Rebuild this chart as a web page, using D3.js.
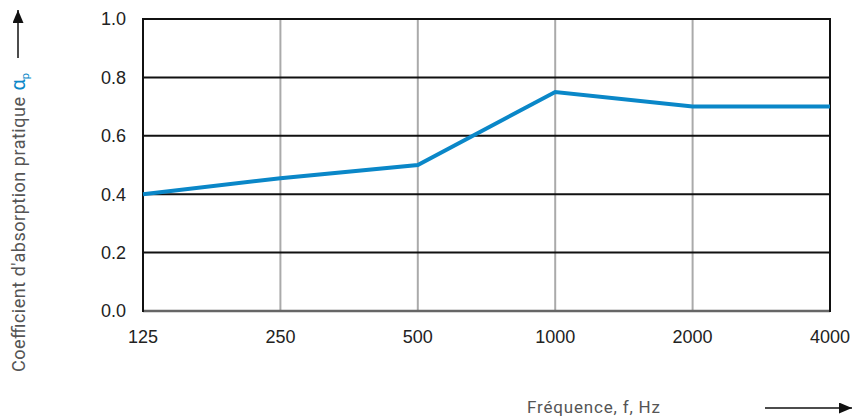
<!DOCTYPE html>
<html>
<head>
<meta charset="utf-8">
<script src="https://cdn.jsdelivr.net/npm/d3@7"></script>
<style>
  body { margin: 0; background: #fff; }
  text { font-family: "Liberation Sans", Arial, sans-serif; }
  .title { font-family: Roboto, "Liberation Sans", sans-serif; }
</style>
</head>
<body>
<div id="chart"></div>
<script>
'use strict';

var frequencies = ['125', '250', '500', '1000', '2000', '4000'];
var absorption = [0.40, 0.455, 0.50, 0.75, 0.70, 0.70];
var yTicks = [0.0, 0.2, 0.4, 0.6, 0.8, 1.0];

var width = 853,
  height = 418,
  margin = { top: 19, right: 23, bottom: 107, left: 143 };

var svg = d3.select('#chart')
  .append('svg')
  .attr('width', width)
  .attr('height', height);

var x = d3.scalePoint()
  .domain(frequencies)
  .range([margin.left, width - margin.right]);

var y = d3.scaleLinear()
  .domain([0, 1])
  .range([height - margin.bottom, margin.top]);

// vertical grid (grey)
svg.append('g')
  .selectAll('line')
  .data(frequencies.slice(1, -1))
  .join('line')
  .attr('x1', function(d) { return x(d); })
  .attr('x2', function(d) { return x(d); })
  .attr('y1', y(1))
  .attr('y2', y(0))
  .style('stroke', '#aaa')
  .style('stroke-width', 2);

// horizontal grid (black)
svg.append('g')
  .selectAll('line')
  .data(yTicks.slice(1))
  .join('line')
  .attr('x1', x.range()[0])
  .attr('x2', x.range()[1])
  .attr('y1', function(d) { return y(d); })
  .attr('y2', function(d) { return y(d); })
  .style('stroke', '#111')
  .style('stroke-width', 2);

// bottom line (dark grey)
svg.append('line')
  .attr('x1', x.range()[0])
  .attr('x2', x.range()[1])
  .attr('y1', y(0))
  .attr('y2', y(0))
  .style('stroke', '#666')
  .style('stroke-width', 2.5);

// left & right borders
svg.append('g')
  .selectAll('line')
  .data([frequencies[0], frequencies[frequencies.length - 1]])
  .join('line')
  .attr('x1', function(d) { return x(d); })
  .attr('x2', function(d) { return x(d); })
  .attr('y1', y(1) - 1)
  .attr('y2', y(0) + 1)
  .style('stroke', '#111')
  .style('stroke-width', 2);

// y tick labels
svg.append('g')
  .selectAll('text')
  .data(yTicks)
  .join('text')
  .attr('x', margin.left - 17)
  .attr('y', function(d) { return y(d); })
  .attr('dy', '0.35em')
  .attr('text-anchor', 'end')
  .style('font-size', '18px')
  .style('fill', '#222')
  .text(function(d) { return d3.format('.1f')(d); });

// x tick labels
svg.append('g')
  .selectAll('text')
  .data(frequencies)
  .join('text')
  .attr('x', function(d) { return x(d); })
  .attr('y', y(0) + 32)
  .attr('text-anchor', 'middle')
  .style('font-size', '18px')
  .style('fill', '#222')
  .text(function(d) { return d; });

// data line
var line = d3.line()
  .x(function(d, i) { return x(frequencies[i]); })
  .y(function(d) { return y(d); });

svg.append('path')
  .datum(absorption)
  .attr('d', line)
  .style('fill', 'none')
  .style('stroke', '#0a87c8')
  .style('stroke-width', 4)
  .style('stroke-linejoin', 'miter');

// arrow marker
svg.append('defs').append('marker')
  .attr('id', 'arrow')
  .attr('viewBox', '0 0 10 10')
  .attr('refX', 10)
  .attr('refY', 5)
  .attr('markerWidth', 13)
  .attr('markerHeight', 11)
  .attr('markerUnits', 'userSpaceOnUse')
  .attr('orient', 'auto')
  .attr('preserveAspectRatio', 'none')
  .append('path')
  .attr('d', 'M0,0 L10,5 L0,10 Z')
  .style('fill', '#111');

// y axis title
var yTitle = svg.append('text')
  .attr('class', 'title')
  .attr('transform', 'translate(25,372) rotate(-90)')
  .attr('text-anchor', 'start')
  .style('font-size', '18px')
  .style('fill', '#555');
yTitle.append('tspan')
  .attr('textLength', 275)
  .attr('lengthAdjust', 'spacing')
  .text("Coefficient d'absorption pratique");
yTitle.append('tspan').attr('dx', 6).style('fill', '#0a87c8').style('font-size', '20px').text('α');
yTitle.append('tspan').style('fill', '#0a87c8').style('font-size', '11px').attr('dy', 4).text('p');

svg.append('line')
  .attr('x1', 18).attr('x2', 18)
  .attr('y1', 58).attr('y2', 10)
  .style('stroke', '#111')
  .style('stroke-width', 1.5)
  .attr('marker-end', 'url(#arrow)');

// x axis title
svg.append('text')
  .attr('class', 'title')
  .attr('x', 527)
  .attr('y', 413)
  .attr('textLength', 133)
  .attr('lengthAdjust', 'spacing')
  .style('font-size', '17px')
  .style('fill', '#555')
  .text('Fréquence, f, Hz');

svg.append('line')
  .attr('x1', 765).attr('x2', 852)
  .attr('y1', 408).attr('y2', 408)
  .style('stroke', '#111')
  .style('stroke-width', 1.5)
  .attr('marker-end', 'url(#arrow)');
</script>
</body>
</html>
